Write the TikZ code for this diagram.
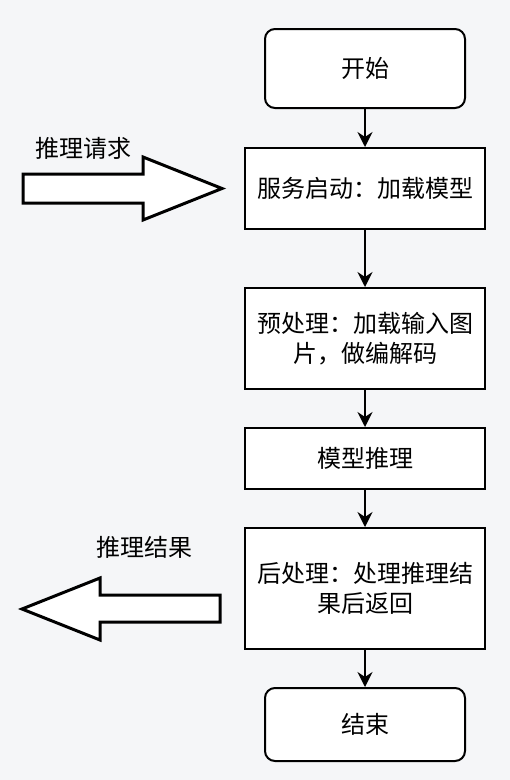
\documentclass[tikz,border=0pt]{standalone}
\usepackage{fontspec}
\setmainfont{Noto Sans CJK SC}
\usetikzlibrary{arrows.meta}
\definecolor{bgc}{HTML}{F5F6F8}
\tikzset{
  flowbox/.style={draw=black, line width=2pt, fill=white, align=center, inner sep=0pt,
    font=\fontsize{24}{30}\selectfont, text=black},
  termbox/.style={flowbox, rounded corners=10pt},
  flowline/.style={draw=black, line width=2pt, -{Stealth[length=15pt,width=15pt,inset=5pt]}},
  bigarrow/.style={draw=black, line width=3pt, fill=white, line join=miter},
  sidelabel/.style={font=\fontsize{24}{30}\selectfont, text=black, inner sep=0pt}
}
\begin{document}
\begin{tikzpicture}[x=1pt,y=-1pt]
\useasboundingbox[fill=bgc] (0,0) rectangle (510,780);
\node[termbox, minimum width=200pt, minimum height=79pt] (start) at (365,68.5) {开始};
\node[flowbox, minimum width=240pt, minimum height=81pt] (load) at (365,188.5) {服务启动：加载模型};
\node[flowbox, minimum width=240pt, minimum height=101pt] (pre) at (365,338.5) {预处理：加载输入图\\片，做编解码};
\node[flowbox, minimum width=240pt, minimum height=61pt] (infer) at (365,458.5) {模型推理};
\node[flowbox, minimum width=240pt, minimum height=121pt] (post) at (365,588.5) {后处理：处理推理结\\果后返回};
\node[termbox, minimum width=200pt, minimum height=73pt] (stop) at (365,724.5) {结束};
\draw[flowline] (start) -- (load);
\draw[flowline] (load) -- (pre);
\draw[flowline] (pre) -- (infer);
\draw[flowline] (infer) -- (post);
\draw[flowline] (post) -- (stop);
% input block arrow
\draw[bigarrow] (23,174) -- (143,174) -- (143,157) -- (222,188.5) -- (143,220) -- (143,203) -- (23,203) -- cycle;
\node[sidelabel] (reqlabel) at (83,148) {推理请求};
% output block arrow
\draw[bigarrow] (220,595) -- (100,595) -- (100,578) -- (22,609) -- (100,640) -- (100,622) -- (220,622) -- cycle;
\node[sidelabel] (reslabel) at (144,547) {推理结果};
\end{tikzpicture}
\end{document}
